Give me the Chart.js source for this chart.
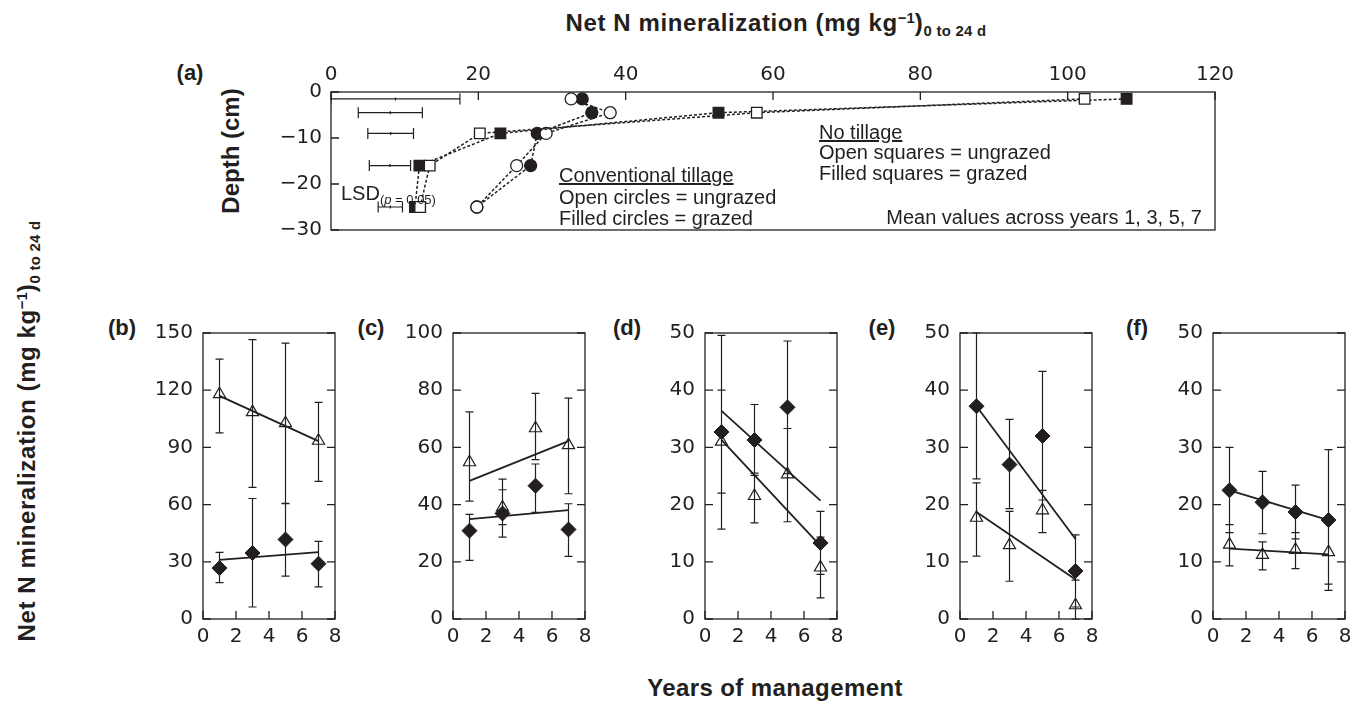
<!DOCTYPE html>
<html>
<head>
<meta charset="utf-8">
<script src="https://cdn.jsdelivr.net/npm/chart.js@4.4.1/dist/chart.umd.min.js"></script>
<style>
  body { margin: 0; width: 1370px; height: 720px; background: #fff; position: relative; overflow: hidden;
         font-family: "Liberation Sans", Arial, sans-serif; color: #231f20; }
  canvas { position: absolute; }
  .t { position: absolute; white-space: nowrap; line-height: 1; z-index: 2; }
  .b { font-weight: bold; }
  .ttl { font-size: 24px; letter-spacing: 0.6px; }
  .sup { font-size: 0.62em; position: relative; top: -0.55em; letter-spacing: 0; }
  .sub { font-size: 0.62em; position: relative; top: 0.35em; letter-spacing: 0.3px; }
  .note { font-size: 20px; }
</style>
</head>
<body>

<div class="t b ttl" style="left:776px; top:23px; transform:translate(-50%,-50%)">Net N mineralization (mg kg<span class="sup">−1</span>)<span class="sub">0 to 24 d</span></div>
<div class="t b" style="font-size:22px; left:190px; top:73px; transform:translate(-50%,-50%)">(a)</div>
<div class="t b" style="font-size:24px; left:231px; top:151px; transform:translate(-50%,-50%) rotate(-90deg)">Depth (cm)</div>
<div class="t b ttl" style="left:27px; top:431px; transform:translate(-50%,-50%) rotate(-90deg)">Net N mineralization (mg kg<span class="sup">−1</span>)<span class="sub">0 to 24 d</span></div>
<div class="t b" style="font-size:24px; letter-spacing:0.4px; left:775px; top:688px; transform:translate(-50%,-50%)">Years of management</div>

<div class="t note" style="left:559px; top:175px; transform:translateY(-50%); text-decoration:underline">Conventional tillage</div>
<div class="t note" style="left:559px; top:197px; transform:translateY(-50%)">Open circles = ungrazed</div>
<div class="t note" style="left:559px; top:218px; transform:translateY(-50%)">Filled circles = grazed</div>
<div class="t note" style="left:819px; top:132px; transform:translateY(-50%); text-decoration:underline">No tillage</div>
<div class="t note" style="left:819px; top:152px; transform:translateY(-50%)">Open squares = ungrazed</div>
<div class="t note" style="left:819px; top:173px; transform:translateY(-50%)">Filled squares = grazed</div>
<div class="t note" style="left:1202px; top:217px; transform:translate(-100%,-50%)">Mean values across years 1, 3, 5, 7</div>
<div class="t note" style="left:341px; top:193px; transform:translateY(-50%)">LSD<span style="font-size:13px; position:relative; top:4px">(<i>p</i> = 0.05)</span></div>

<div class="t b" style="font-size:22px; left:122px; top:328px; transform:translate(-50%,-50%)">(b)</div>
<div class="t b" style="font-size:22px; left:371px; top:328px; transform:translate(-50%,-50%)">(c)</div>
<div class="t b" style="font-size:22px; left:627px; top:328px; transform:translate(-50%,-50%)">(d)</div>
<div class="t b" style="font-size:22px; left:882px; top:328px; transform:translate(-50%,-50%)">(e)</div>
<div class="t b" style="font-size:22px; left:1137px; top:328px; transform:translate(-50%,-50%)">(f)</div>

<canvas id="pa"></canvas>
<canvas id="pb"></canvas>
<canvas id="pc"></canvas>
<canvas id="pd"></canvas>
<canvas id="pe"></canvas>
<canvas id="pf"></canvas>

<script>
// (a) depth profile, mean across years 1, 3, 5, 7
const depths = [-1.5, -4.5, -9, -16, -25];
const ctUngrazed = [32.6, 37.9, 29.2, 25.2, 19.8];   // open circles
const ctGrazed = [34.1, 35.4, 28.0, 27.1, 19.8];     // filled circles
const ntUngrazed = [102.3, 57.8, 20.2, 13.4, 12.1];  // open squares
const ntGrazed = [108.0, 52.6, 23.0, 12.0, 11.4];    // filled squares
const lsdLeft = [0, 3.7, 5.0, 5.2, 6.4];
const lsdRight = [17.5, 12.4, 11.2, 10.8, 9.7];

// (b)-(f) by year
const years = [1, 3, 5, 7];
const fitYears = [1, 7];

const bTri = [117.9, 108.5, 102.7, 93.5];
const bTriLo = [97.6, 69.0, 60.7, 72.2];
const bTriHi = [136.3, 146.5, 144.7, 113.6];
const bDia = [26.7, 34.6, 41.7, 29.0];
const bDiaLo = [19.1, 6.3, 22.5, 16.9];
const bDiaHi = [34.9, 63.2, 60.5, 40.7];
const bTriFit = [117.0, 93.3];
const bDiaFit = [31.0, 35.1];

const cTri = [54.8, 39.0, 66.7, 60.8];
const cTriLo = [41.2, 33.0, 55.7, 43.8];
const cTriHi = [72.4, 45.2, 78.9, 77.2];
const cDia = [30.9, 36.9, 46.6, 31.3];
const cDiaLo = [20.5, 28.6, 37.3, 21.9];
const cDiaHi = [36.6, 48.9, 54.2, 40.3];
const cTriFit = [48.3, 62.2];
const cDiaFit = [34.9, 38.1];

const dTri = [31.0, 21.5, 25.3, 9.0];
const dTriLo = [22.0, 16.8, 17.0, 3.7];
const dTriHi = [40.0, 25.1, 33.3, 14.3];
const dDia = [32.7, 31.3, 37.0, 13.3];
const dDiaLo = [15.7, 25.5, 25.4, 7.8];
const dDiaHi = [49.6, 37.5, 48.6, 18.8];
const dTriFit = [31.3, 12.8];
const dDiaFit = [36.4, 20.7];

const eTri = [17.7, 12.9, 19.0, 2.4];
const eTriLo = [11.0, 6.6, 15.1, 0];
const eTriHi = [23.8, 18.8, 22.5, 6.8];
const eDia = [37.2, 27.0, 32.0, 8.4];
const eDiaLo = [24.5, 19.3, 20.8, 2.1];
const eDiaHi = [50.0, 34.9, 43.3, 14.7];
const eTriFit = [18.7, 6.9];
const eDiaFit = [37.2, 14.0];

const fTri = [13.0, 11.2, 12.1, 11.7];
const fTriLo = [9.3, 8.6, 8.8, 6.1];
const fTriHi = [16.5, 13.5, 15.1, 17.3];
const fDia = [22.5, 20.4, 18.7, 17.3];
const fDiaLo = [15.1, 14.9, 14.0, 5.0];
const fDiaHi = [30.0, 25.8, 23.4, 29.6];
const fTriFit = [12.3, 11.3];
const fDiaFit = [22.5, 17.3];

const ink = '#231f20';
const tickFont = { family: 'DejaVu Sans', size: 20 };

function pts(xs, ys) { return xs.map((x, i) => ({ x: x, y: ys[i] })); }
function pairs(ys, xs) { return ys.map((y, i) => ({ x: xs[i], y: y })); }

// frame + inward tick marks
const framePlugin = {
  id: 'frame',
  beforeDatasetsDraw(chart, args, opts) {
    const { ctx, chartArea: a, scales } = chart;
    const len = 8;
    ctx.save();
    ctx.strokeStyle = ink;
    ctx.lineWidth = 1.3;
    ctx.strokeRect(a.left, a.top, a.right - a.left, a.bottom - a.top);
    ctx.beginPath();
    scales.x.ticks.forEach(t => {
      const px = scales.x.getPixelForValue(t.value);
      if (opts.xTop) { ctx.moveTo(px, a.top); ctx.lineTo(px, a.top + len); }
      else { ctx.moveTo(px, a.bottom); ctx.lineTo(px, a.bottom - len); }
    });
    scales.y.ticks.forEach(t => {
      const py = scales.y.getPixelForValue(t.value);
      ctx.moveTo(a.left, py); ctx.lineTo(a.left + len, py);
      if (opts.mirror) { ctx.moveTo(a.right, py); ctx.lineTo(a.right - len, py); }
    });
    ctx.stroke();
    ctx.restore();
  }
};

// error bars, vertical for (b)-(f), horizontal LSD bars for (a)
const errPlugin = {
  id: 'errBars',
  beforeDatasetsDraw(chart, args, opts) {
    if (!opts.bars) return;
    const { ctx, chartArea: a, scales: { x, y } } = chart;
    ctx.save();
    ctx.beginPath();
    ctx.rect(a.left, a.top - 1, a.right - a.left, a.bottom - a.top + 2);
    ctx.clip();
    ctx.strokeStyle = ink;
    ctx.lineWidth = 1.2;
    ctx.beginPath();
    opts.bars.forEach(b => {
      b.at.forEach((v, i) => {
        if (opts.horizontal) {
          const py = y.getPixelForValue(v);
          const x0 = x.getPixelForValue(b.lo[i]), x1 = x.getPixelForValue(b.hi[i]);
          const xm = (x0 + x1) / 2;
          ctx.moveTo(x0, py); ctx.lineTo(x1, py);
          ctx.moveTo(x0, py - 5.5); ctx.lineTo(x0, py + 5.5);
          ctx.moveTo(x1, py - 5.5); ctx.lineTo(x1, py + 5.5);
          ctx.moveTo(xm, py - 1.5); ctx.lineTo(xm, py + 1.5);
        } else {
          const px = x.getPixelForValue(v);
          const y0 = y.getPixelForValue(b.lo[i]), y1 = y.getPixelForValue(b.hi[i]);
          ctx.moveTo(px, y0); ctx.lineTo(px, y1);
          ctx.moveTo(px - 4, y0); ctx.lineTo(px + 4, y0);
          ctx.moveTo(px - 4, y1); ctx.lineTo(px + 4, y1);
        }
      });
    });
    ctx.stroke();
    ctx.restore();
  }
};

Chart.register(framePlugin, errPlugin);

function place(cv, left, top, w, h) {
  cv.width = w; cv.height = h;
  cv.style.left = left + 'px'; cv.style.top = top + 'px';
  cv.style.width = w + 'px'; cv.style.height = h + 'px';
}

// panel (a)
function depthPanel() {
  const cv = document.getElementById('pa');
  place(cv, 331 - 60, 92 - 40, 60 + 884 + 30, 40 + 145 + 14);
  const line = (vals, style, fill, ord) => ({
    data: pairs(depths, vals), showLine: true, borderColor: ink, borderWidth: 1.5, borderDash: [3, 2],
    pointStyle: style, pointRadius: style === 'rect' ? 7.5 : 6, pointBackgroundColor: fill,
    pointBorderColor: ink, pointBorderWidth: 1.3, order: ord
  });
  new Chart(cv, {
    type: 'scatter',
    data: { datasets: [
      line(ntUngrazed, 'rect', '#fff', 1),
      line(ntGrazed, 'rect', ink, 2),
      line(ctUngrazed, 'circle', '#fff', 3),
      line(ctGrazed, 'circle', ink, 4)
    ] },
    options: {
      responsive: false, animation: false,
      layout: { padding: { top: 0, right: 30, bottom: 14, left: 0 } },
      plugins: {
        legend: { display: false }, tooltip: { enabled: false },
        frame: { xTop: true, mirror: false },
        errBars: { horizontal: true, bars: [{ at: depths, lo: lsdLeft, hi: lsdRight }] }
      },
      scales: {
        x: { type: 'linear', position: 'top', min: 0, max: 120,
             grid: { display: false, drawTicks: false }, border: { display: false },
             ticks: { stepSize: 20, padding: 5, color: ink, font: tickFont, maxRotation: 0 },
             afterFit: s => { s.height = 40; } },
        y: { type: 'linear', min: -30, max: 0,
             grid: { display: false, drawTicks: false }, border: { display: false },
             ticks: { stepSize: 10, padding: 9, color: ink, font: tickFont,
                      callback: v => String(v).replace('-', '\u2212') },
             afterFit: s => { s.width = 60; } }
      }
    }
  });
}

// panels (b)-(f)
function yearPanel(id, left, yMax, yStep, tri, triLo, triHi, triFit, dia, diaLo, diaHi, diaFit) {
  const cv = document.getElementById(id);
  place(cv, left - 55, 325 - 14, 55 + 132 + 16, 14 + 294 + 34);
  new Chart(cv, {
    type: 'scatter',
    data: { datasets: [
      { type: 'line', data: pts(fitYears, diaFit), borderColor: ink, borderWidth: 1.8, pointRadius: 0, order: 3 },
      { type: 'line', data: pts(fitYears, triFit), borderColor: ink, borderWidth: 1.8, pointRadius: 0, order: 4 },
      { data: pts(years, dia), pointStyle: 'rectRot', pointRadius: 7.5, backgroundColor: ink,
        borderColor: ink, borderWidth: 1, order: 1 },
      { data: pts(years, tri), pointStyle: 'triangle', pointRadius: 7, backgroundColor: 'rgba(255,255,255,0)',
        borderColor: ink, borderWidth: 1.2, order: 2 }
    ] },
    options: {
      responsive: false, animation: false,
      layout: { padding: { top: 14, right: 16, bottom: 0, left: 0 } },
      plugins: {
        legend: { display: false }, tooltip: { enabled: false },
        frame: { xTop: false, mirror: true },
        errBars: { horizontal: false, bars: [
          { at: years, lo: triLo, hi: triHi },
          { at: years, lo: diaLo, hi: diaHi }
        ] }
      },
      scales: {
        x: { type: 'linear', min: 0, max: 8,
             grid: { display: false, drawTicks: false }, border: { display: false },
             ticks: { stepSize: 2, padding: 6, color: ink, font: tickFont, maxRotation: 0 },
             afterFit: s => { s.height = 34; } },
        y: { type: 'linear', min: 0, max: yMax,
             grid: { display: false, drawTicks: false }, border: { display: false },
             ticks: { stepSize: yStep, padding: 10, color: ink, font: tickFont },
             afterFit: s => { s.width = 55; } }
      }
    }
  });
}

depthPanel();
yearPanel('pb', 203, 150, 30, bTri, bTriLo, bTriHi, bTriFit, bDia, bDiaLo, bDiaHi, bDiaFit);
yearPanel('pc', 453, 100, 20, cTri, cTriLo, cTriHi, cTriFit, cDia, cDiaLo, cDiaHi, cDiaFit);
yearPanel('pd', 705, 50, 10, dTri, dTriLo, dTriHi, dTriFit, dDia, dDiaLo, dDiaHi, dDiaFit);
yearPanel('pe', 960, 50, 10, eTri, eTriLo, eTriHi, eTriFit, eDia, eDiaLo, eDiaHi, eDiaFit);
yearPanel('pf', 1213, 50, 10, fTri, fTriLo, fTriHi, fTriFit, fDia, fDiaLo, fDiaHi, fDiaFit);
</script>
</body>
</html>
